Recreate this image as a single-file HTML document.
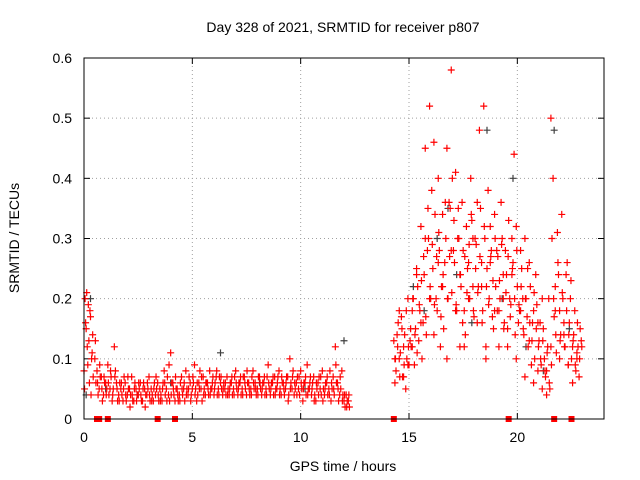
<!DOCTYPE html>
<html><head><meta charset="utf-8">
<style>
html,body{margin:0;padding:0;background:#fff;}
svg{display:block;font-family:"Liberation Sans",sans-serif;}
</style></head>
<body>
<svg id="chart" width="640" height="480">
  <text x="343" y="32" font-size="14" text-anchor="middle" fill="#000">Day 328 of 2021, SRMTID for receiver p807</text>
  <text x="343" y="471" font-size="14" text-anchor="middle" fill="#000">GPS time / hours</text>
  <text x="19" y="238" font-size="14" text-anchor="middle" fill="#000" transform="rotate(-90 19 238)">SRMTID / TECUs</text>
  <g id="grid"></g>
  <g id="ticks"></g>
  <g id="marks"></g>
  <rect x="84" y="58" width="520" height="361" fill="none" stroke="#000" stroke-width="1"/>
</svg>
<script>
const xTicks = [0,5,10,15,20];
const yTicks = [0,0.1,0.2,0.3,0.4,0.5,0.6];
const yTickLabels = ["0","0.1","0.2","0.3","0.4","0.5","0.6"];
const segAStart = 0.0, segAStep = 0.05;
const segAVals = [0.08,0.2,0.15,0.12,0.19,0.06,0.17,0.1,0.14];
const segAVals2 = [0.05,0.16,0.21,0.09,0.13,0.18,0.04,0.11,0.07];
const segBStart = 0.5, segBStep = 0.1;
const segBVals1 = [0.10,0.08,0.05,0.07,0.04,0.06,0.09,0.05,0.03,0.12,0.06,0.04,0.05,0.03,0.06,0.04,0.05,0.07,0.03,0.05,
0.04,0.06,0.03,0.05,0.04,0.07,0.05,0.03,0.04,0.06,0.05,0.03,0.08,0.05,0.04,0.11,0.06,0.03,0.05,0.04,
0.07,0.05,0.08,0.04,0.06,0.05,0.09,0.03,0.06,0.05,0.07,0.04,0.06,0.08,0.05,0.04,0.07,0.05,0.06,0.04,
0.05,0.07,0.04,0.06,0.05,0.08,0.04,0.06,0.05,0.07,0.04,0.06,0.05,0.08,0.06,0.05,0.07,0.04,0.06,0.05,
0.09,0.04,0.06,0.07,0.05,0.08,0.04,0.06,0.05,0.07,0.10,0.05,0.04,0.06,0.05,0.08,0.03,0.06,0.09,0.05,
0.04,0.07,0.03,0.06,0.05,0.08,0.04,0.06,0.05,0.03,0.07,0.12,0.06,0.04,0.08,0.03,0.04,0.03];
const segBVals2 = [0.06,0.04,0.07,0.03,0.06,0.05,0.04,0.07,0.05,0.08,0.03,0.06,0.04,0.07,0.03,0.05,0.04,0.03,0.06,0.04,
0.05,0.03,0.06,0.04,0.05,0.03,0.04,0.06,0.05,0.03,0.04,0.06,0.04,0.07,0.03,0.06,0.04,0.05,0.03,0.06,
0.04,0.03,0.05,0.07,0.04,0.06,0.05,0.04,0.08,0.03,0.05,0.06,0.04,0.05,0.07,0.06,0.04,0.07,0.05,0.06,
0.04,0.05,0.06,0.04,0.07,0.05,0.06,0.04,0.07,0.05,0.06,0.04,0.07,0.05,0.04,0.07,0.05,0.06,0.04,0.07,
0.05,0.06,0.04,0.05,0.07,0.05,0.06,0.04,0.07,0.04,0.06,0.08,0.05,0.07,0.04,0.05,0.06,0.04,0.05,0.07,
0.06,0.04,0.05,0.07,0.04,0.05,0.06,0.04,0.08,0.05,0.04,0.06,0.03,0.05,0.04,0.02,0.03,0.02];
const segBVals3 = [0.13,0.06,0.09,0.05,0.07,0.04,0.06,0.08,0.04,0.07,0.05,0.03,0.06,0.05,0.04,0.07,0.02,0.04,0.05,0.03,
0.06,0.04,0.05,0.02,0.06,0.04,0.03,0.05,0.07,0.04,0.03,0.05,0.06,0.03,0.09,0.04,0.05,0.07,0.04,0.03,
0.05,0.06,0.04,0.05,0.03,0.07,0.04,0.06,0.05,0.07,0.04,0.06,0.05,0.04,0.06,0.05,0.08,0.04,0.07,0.05,
0.06,0.04,0.05,0.07,0.04,0.06,0.05,0.07,0.04,0.06,0.08,0.05,0.04,0.06,0.05,0.04,0.06,0.05,0.07,0.04,
0.06,0.05,0.07,0.04,0.06,0.04,0.07,0.05,0.06,0.03,0.05,0.07,0.06,0.04,0.07,0.06,0.05,0.07,0.04,0.06,
0.05,0.03,0.06,0.04,0.07,0.03,0.05,0.07,0.04,0.06,0.05,0.09,0.05,0.07,0.03,0.04,0.02,0.04];
const segCStart = 14.3, segCStep = 0.1;
const segCVals1 = [0.13,0.08,0.16,0.11,0.07,0.14,0.10,0.09,
0.12,0.2,0.15,0.22,0.18,0.1,0.24,0.14,0.3,0.2,
0.25,0.34,0.18,0.28,0.22,0.15,0.3,0.2,0.35,0.4,
0.26,0.18,0.3,0.22,0.28,0.14,0.25,0.2,0.33,0.17,
0.29,0.22,0.35,0.18,0.3,0.25,0.2,0.28,0.15,0.22,
0.27,0.2,0.3,0.16,0.24,0.33,0.19,0.26,0.14,0.22,
0.18,0.25,0.14,0.2,0.12,0.22,0.16,0.1,0.19,0.13,
0.09,0.15,0.07,0.12,0.05,0.3,0.17,0.11,0.24,0.14,
0.2,0.12,0.26,0.16,0.1,0.14,0.08,0.12,0.15];
const segCVals2 = [0.06,0.14,0.1,0.17,0.12,0.05,0.09,0.13,
0.18,0.09,0.25,0.13,0.32,0.16,0.45,0.28,0.52,0.38,
0.46,0.2,0.4,0.12,0.34,0.26,0.45,0.36,0.58,0.28,
0.41,0.3,0.12,0.36,0.18,0.32,0.26,0.4,0.22,0.3,
0.36,0.48,0.26,0.52,0.12,0.38,0.32,0.17,0.34,0.28,
0.18,0.36,0.24,0.28,0.12,0.2,0.3,0.44,0.32,0.16,
0.28,0.2,0.3,0.17,0.26,0.09,0.18,0.24,0.08,0.16,
0.05,0.1,0.04,0.2,0.5,0.4,0.22,0.31,0.18,0.34,
0.16,0.24,0.09,0.2,0.06,0.18,0.11,0.07,0.13];
const segCVals3 = [0.1,0.12,0.07,0.15,0.09,0.18,0.12,0.15,
0.2,0.14,0.11,0.19,0.23,0.27,0.17,0.35,0.22,0.29,
0.19,0.27,0.31,0.17,0.24,0.36,0.2,0.27,0.21,0.33,
0.19,0.35,0.24,0.16,0.27,0.21,0.29,0.34,0.18,0.25,
0.21,0.27,0.16,0.32,0.22,0.19,0.27,0.23,0.3,0.18,
0.23,0.29,0.15,0.21,0.27,0.17,0.25,0.2,0.28,0.19,
0.22,0.15,0.2,0.25,0.16,0.13,0.21,0.15,0.12,0.1,
0.13,0.08,0.11,0.06,0.09,0.2,0.14,0.26,0.13,0.21,
0.12,0.18,0.14,0.23,0.13,0.09,0.16,0.1,0.12];
const segDStart = 14.35, segDStep = 0.2;
const segDVals = [0.1,0.18,0.07,0.2,0.12,0.24,0.16,0.3,0.2,0.14,0.26,0.22,0.1,0.28,0.18,0.24,0.12,0.2,0.3,0.16,0.22,0.1,0.26,0.18,0.12,0.2,0.15,0.24,0.1,0.18,0.07,0.13,0.06,0.16,0.2,0.08,0.12,0.18,0.1,0.14,0.09,0.12,0.1];
const blackT = [0.1,0.3,1.0,2.5,4.0,6.3,8.1,10.2,12.0,15.2,15.7,16.3,16.8,17.2,17.9,18.6,19.3,19.8,20.4,21.2,21.7,22.4];
const blackV = [0.04,0.2,0.05,0.04,0.06,0.11,0.06,0.05,0.13,0.22,0.18,0.3,0.35,0.24,0.16,0.48,0.2,0.4,0.12,0.08,0.48,0.15];
const gapT = [0.6,0.7,1.1,3.4,4.2,14.3,19.6,21.7,22.5];
const gapV = [0,0,0,0,0,0,0,0,0];

const NS = "http://www.w3.org/2000/svg";
const X0=84, X1=604, Y0=419, Y1=58, XMAX=24, YMAX=0.6;
function sx(t){return X0+(X1-X0)*t/XMAX;}
function sy(v){return Y0-(Y0-Y1)*v/YMAX;}
const grid=document.getElementById('grid'), ticks=document.getElementById('ticks'), marks=document.getElementById('marks');
function mk(tag,attrs,parent){const e=document.createElementNS(NS,tag);for(const k in attrs)e.setAttribute(k,attrs[k]);parent.appendChild(e);return e;}

xTicks.forEach(t=>{
  const x=sx(t);
  if(t>0){const g=mk('line',{x1:x,y1:Y0,x2:x,y2:Y1,stroke:'#a0a0a0','stroke-dasharray':'1,3'},grid);
    
    }
  mk('line',{x1:x,y1:Y0,x2:x,y2:Y0-6,stroke:'#000'},ticks);
  mk('line',{x1:x,y1:Y1,x2:x,y2:Y1+6,stroke:'#000'},ticks);
  const lb=mk('text',{x:x,y:Y0+23,'font-size':14,'text-anchor':'middle'},ticks);
  lb.textContent=String(t);
  
  
});
yTicks.forEach((v,i)=>{
  const y=sy(v);
  if(v>0&&v<YMAX){const g=mk('line',{x1:X0,y1:y,x2:X1,y2:y,stroke:'#a0a0a0','stroke-dasharray':'1,3'},grid);
    
    }
  mk('line',{x1:X0,y1:y,x2:X0+6,y2:y,stroke:'#000'},ticks);
  mk('line',{x1:X1,y1:y,x2:X1-6,y2:y,stroke:'#000'},ticks);
  const lb=mk('text',{x:X0-12,y:y+5,'font-size':14,'text-anchor':'end'},ticks);
  lb.textContent=yTickLabels[i];
  
  
});

function plus(t,v,color){
  const x=sx(t), y=sy(v);
  const p=mk('path',{d:`M${x-3.5},${y}H${x+3.5}M${x},${y-3.5}V${y+3.5}`,stroke:color,'stroke-width':1.2,fill:'none'},marks);
  
  
}
function series(start,step,vals,color){vals.forEach((v,i)=>plus(start+step*i,v,color));}
blackT.forEach((t,i)=>plus(t,blackV[i],'#404040'));
series(segAStart,segAStep,segAVals,'#ff0000');
series(segAStart+0.025,segAStep,segAVals2,'#ff0000');
series(segBStart,segBStep,segBVals1,'#ff0000');
series(segBStart+0.05,segBStep,segBVals2,'#ff0000');
series(segBStart+0.025,segBStep,segBVals3,'#ff0000');
series(segCStart,segCStep,segCVals1,'#ff0000');
series(segCStart+0.05,segCStep,segCVals2,'#ff0000');
series(segCStart+0.075,segCStep,segCVals3,'#ff0000');
series(segDStart,segDStep,segDVals,'#ff0000');
gapT.forEach((t,i)=>{
  const r=mk('rect',{x:sx(t)-3,y:sy(gapV[i])-3,width:6,height:6,fill:'#ff0000'},marks);
  
  
});
</script>
</body></html>
